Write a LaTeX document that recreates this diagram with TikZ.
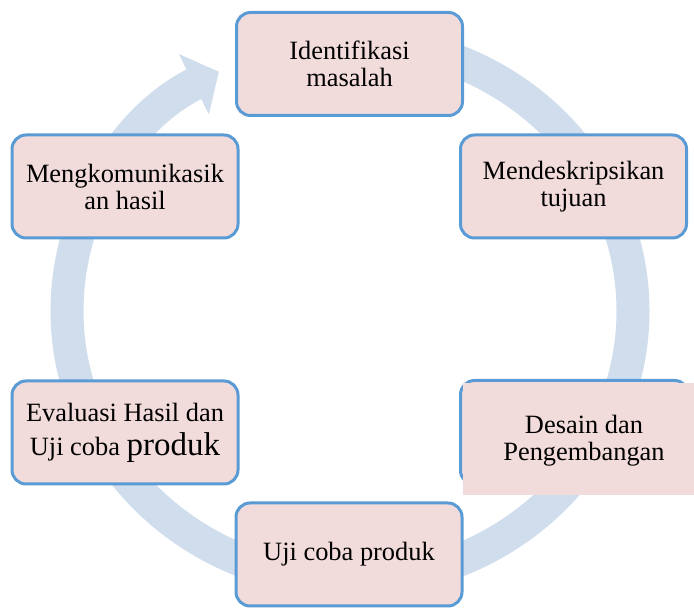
\documentclass[tikz,border=0pt]{standalone}
\usepackage{fontspec}
\setmainfont{Liberation Serif}
\usepackage{tikz}
\usetikzlibrary{arrows.meta, positioning}
\definecolor{ringblue} {RGB}{207, 221, 237}
\definecolor{edgeblue} {RGB}{91, 155, 213}
\definecolor{boxpink}  {RGB}{242, 220, 219}

\begin{document}
\begin{tikzpicture}[x=1pt, y=1pt,
  stage/.style={draw=edgeblue, line width=3pt, rounded corners=14pt, fill=boxpink, minimum width=226pt, minimum height=103pt, align=center, font=\fontsize{26.4}{27}\selectfont},
  stagetext/.style={align=center, font=\fontsize{26.4}{27}\selectfont},
  cycle/.style={line width=33pt, color=ringblue, -{Triangle[length=28pt, width=66pt]}}
]
  \useasboundingbox (0,0) rectangle (694,608);

  % Cycle ring
  \coordinate (ringtop) at (350,567);
  \draw[cycle] (ringtop) arc[start angle=90, end angle=-242.4, x radius=283pt, y radius=270pt];

  % Nodes
  \node[stage] (masalah) at (349.5,544) {Identifikasi\\masalah};
  \node[stage] (tujuan) at (573.5,421.5) {Mendeskripsikan\\tujuan};
  \node[stage, minimum width=228pt, minimum height=104pt] (desain) at (574.5,175.5) {};
  \fill[boxpink] (463,113) rectangle (694,225);
  \node[stagetext] (desaintext) at (584,167) {Desain dan\\Pengembangan};
  \node[stage] (uji) at (349,53.5) {Uji coba produk};
  \node[stage] (evaluasi) at (125,175.5) {Evaluasi Hasil dan\\[7pt]Uji coba {\fontsize{33}{27}\selectfont produk}};
  \node[stage] (komunikasi) at (125,421.5) {Mengkomunikasik\\an hasil};
\end{tikzpicture}
\end{document}
